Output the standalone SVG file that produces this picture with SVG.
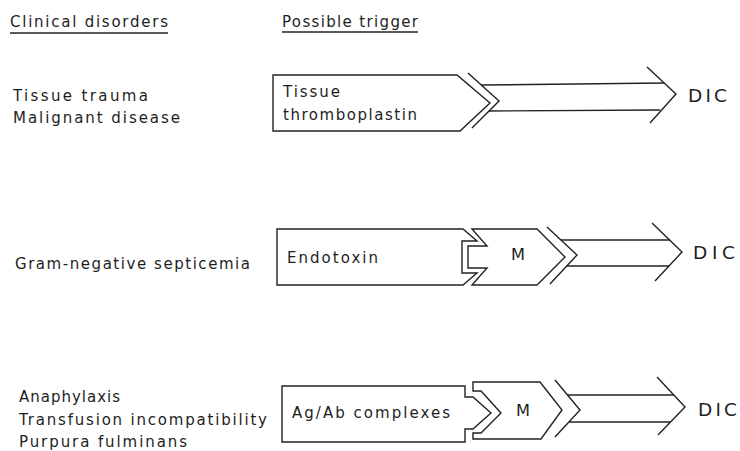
<svg xmlns="http://www.w3.org/2000/svg" width="740" height="451" viewBox="0 0 740 451">
<style>
text{font-family:"DejaVu Sans","Liberation Sans",sans-serif;fill:#1e1e1e;font-size:15px;}
.dic{font-size:18.5px;}
.s{fill:none;stroke:#222;stroke-width:1.4;stroke-linejoin:miter;}
.b{fill:#fff;stroke:#222;stroke-width:1.4;}
</style>
<rect width="740" height="451" fill="#fff"/>
<g id="headers">
<text x="10" y="27" textLength="158" lengthAdjust="spacing">Clinical disorders</text>
<line class="s" x1="10" y1="33" x2="168" y2="33"/>
<text x="282" y="27" textLength="136" lengthAdjust="spacing">Possible trigger</text>
<line class="s" x1="282" y1="32" x2="418" y2="32"/>
</g>
<g id="disorders1">
<text x="13" y="101" textLength="135" lengthAdjust="spacing">Tissue trauma</text>
<text x="13" y="123" textLength="167" lengthAdjust="spacing">Malignant disease</text>
</g>
<g id="disorders2">
<text x="15" y="269" textLength="235" lengthAdjust="spacing">Gram-negative septicemia</text>
</g>
<g id="disorders3">
<text x="19" y="402" textLength="101" lengthAdjust="spacing">Anaphylaxis</text>
<text x="19" y="425" textLength="248" lengthAdjust="spacing">Transfusion incompatibility</text>
<text x="19" y="447" textLength="168" lengthAdjust="spacing">Purpura fulminans</text>
</g>
<g id="trigger1">
<path class="b" d="M273,75 L457,75 L490,103 L460,131 L273,131 Z"/>
<text x="283" y="97" textLength="57" lengthAdjust="spacing">Tissue</text>
<text x="283" y="120" textLength="134" lengthAdjust="spacing">thromboplastin</text>
</g>
<g id="trigger2">
<path class="b" d="M277,229 L463,229 L477,241 L462,241 L462,273 L477,273 L463,285 L277,285 Z"/>
<text x="287" y="263" textLength="91" lengthAdjust="spacing">Endotoxin</text>
</g>
<g id="mediator2">
<path class="b" d="M472,229 L537,229 L565,257 L537,285 L472,285 L487,268 L468,268 L468,246 L487,246 Z"/>
<text x="511" y="260" textLength="14" lengthAdjust="spacingAndGlyphs">M</text>
</g>
<g id="trigger3">
<path class="b" d="M282,386 L465,386 L465,397 L473,397 L491,413 L473,429 L465,429 L465,442 L282,442 Z"/>
<text x="292" y="418" textLength="158" lengthAdjust="spacing">Ag/Ab complexes</text>
</g>
<g id="mediator3">
<path class="b" d="M473,382 L540,382 L562,410 L541,439 L473,439 L473,433 L481,433 L501,413 L481,391 L473,391 Z"/>
<text x="516" y="416" textLength="14" lengthAdjust="spacingAndGlyphs">M</text>
</g>
<g id="connectors">
<polyline class="s" points="468,73 499,101 472,128"/>
<line class="s" x1="481" y1="85" x2="664" y2="83"/>
<line class="s" x1="489" y1="111" x2="660" y2="110"/>
<polyline class="s" points="647,67 676,94 650,123"/>
<polyline class="s" points="547,227 577,255 550,284"/>
<line class="s" x1="561" y1="240" x2="670" y2="240"/>
<line class="s" x1="567" y1="266" x2="669" y2="266"/>
<polyline class="s" points="652,223 682,252 655,281"/>
<polyline class="s" points="555,380 580,410 555,437"/>
<line class="s" x1="567" y1="395" x2="674" y2="395"/>
<line class="s" x1="569" y1="422" x2="670" y2="422"/>
<polyline class="s" points="657,377 685,407 658,435"/>
</g>
<g id="dic1"><text class="dic" x="688" y="102" textLength="39" lengthAdjust="spacing">DIC</text></g>
<g id="dic2"><text class="dic" x="693" y="259" textLength="42" lengthAdjust="spacing">DIC</text></g>
<g id="dic3"><text class="dic" x="698" y="416" textLength="39" lengthAdjust="spacing">DIC</text></g>
</svg>
